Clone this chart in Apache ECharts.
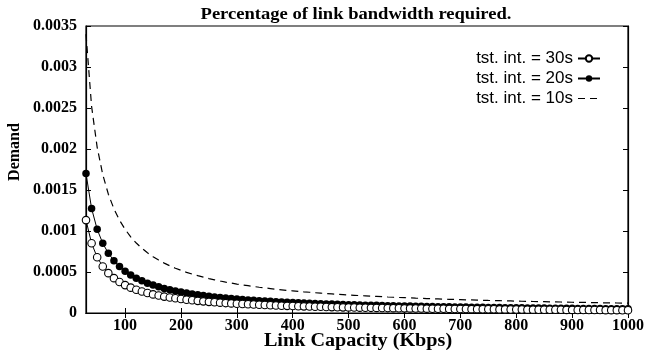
<!DOCTYPE html>
<html>
<head>
<meta charset="utf-8">
<script src="https://cdn.jsdelivr.net/npm/echarts@6/dist/echarts.min.js"></script>
<style>html,body{margin:0;padding:0;background:#fff}#c{width:648px;height:353px}</style>
</head>
<body>
<div id="c"></div>
<script>
// Link capacity (Kbps)
const capacity = [30,40,50,60,70,80,90,100,110,120,130,140,150,160,170,180,190,200,210,220,230,240,250,260,270,280,290,300,310,320,330,340,350,360,370,380,390,400,410,420,430,440,450,460,470,480,490,500,510,520,530,540,550,560,570,580,590,600,610,620,630,640,650,660,670,680,690,700,710,720,730,740,750,760,770,780,790,800,810,820,830,840,850,860,870,880,890,900,910,920,930,940,950,960,970,980,990,1000];

const demand30s = [0.001133,0.000850,0.000680,0.000567,0.000486,0.000425,0.000378,0.000340,0.000309,0.000283,0.000262,0.000243,0.000227,0.000213,0.000200,0.000189,0.000179,0.000170,0.000162,0.000155,0.000148,0.000142,0.000136,0.000131,0.000126,0.000121,0.000117,0.000113,0.000110,0.000106,0.000103,0.000100,0.000097,0.000094,0.000092,0.000089,0.000087,0.000085,0.000083,0.000081,0.000079,0.000077,0.000076,0.000074,0.000072,0.000071,0.000069,0.000068,0.000067,0.000065,0.000064,0.000063,0.000062,0.000061,0.000060,0.000059,0.000058,0.000057,0.000056,0.000055,0.000054,0.000053,0.000052,0.000052,0.000051,0.000050,0.000049,0.000049,0.000048,0.000047,0.000047,0.000046,0.000045,0.000045,0.000044,0.000044,0.000043,0.000043,0.000042,0.000041,0.000041,0.000040,0.000040,0.000040,0.000039,0.000039,0.000038,0.000038,0.000037,0.000037,0.000037,0.000036,0.000036,0.000035,0.000035,0.000035,0.000034,0.000034];

const demand20s = [0.001700,0.001275,0.001020,0.000850,0.000729,0.000638,0.000567,0.000510,0.000464,0.000425,0.000392,0.000364,0.000340,0.000319,0.000300,0.000283,0.000268,0.000255,0.000243,0.000232,0.000222,0.000213,0.000204,0.000196,0.000189,0.000182,0.000176,0.000170,0.000165,0.000159,0.000155,0.000150,0.000146,0.000142,0.000138,0.000134,0.000131,0.000128,0.000124,0.000121,0.000119,0.000116,0.000113,0.000111,0.000109,0.000106,0.000104,0.000102,0.000100,0.000098,0.000096,0.000094,0.000093,0.000091,0.000089,0.000088,0.000086,0.000085,0.000084,0.000082,0.000081,0.000080,0.000078,0.000077,0.000076,0.000075,0.000074,0.000073,0.000072,0.000071,0.000070,0.000069,0.000068,0.000067,0.000066,0.000065,0.000065,0.000064,0.000063,0.000062,0.000061,0.000061,0.000060,0.000059,0.000059,0.000058,0.000057,0.000057,0.000056,0.000055,0.000055,0.000054,0.000054,0.000053,0.000053,0.000052,0.000052,0.000051];

const demand10s = [0.003400,0.002520,0.002020,0.001687,0.001449,0.001270,0.001131,0.001020,0.000929,0.000853,0.000789,0.000734,0.000687,0.000645,0.000608,0.000576,0.000546,0.000520,0.000496,0.000475,0.000455,0.000437,0.000420,0.000405,0.000390,0.000377,0.000365,0.000353,0.000343,0.000333,0.000323,0.000314,0.000306,0.000298,0.000290,0.000283,0.000276,0.000270,0.000264,0.000258,0.000253,0.000247,0.000242,0.000237,0.000233,0.000228,0.000224,0.000220,0.000216,0.000212,0.000209,0.000205,0.000202,0.000199,0.000195,0.000192,0.000189,0.000187,0.000184,0.000181,0.000179,0.000176,0.000174,0.000172,0.000169,0.000167,0.000165,0.000163,0.000161,0.000159,0.000157,0.000155,0.000153,0.000152,0.000150,0.000148,0.000147,0.000145,0.000143,0.000142,0.000140,0.000139,0.000138,0.000136,0.000135,0.000134,0.000132,0.000131,0.000130,0.000129,0.000128,0.000126,0.000125,0.000124,0.000123,0.000122,0.000121,0.000120];

const xTicks = [100,200,300,400,500,600,700,800,900,1000];
const xTickLabels = ['100','200','300','400','500','600','700','800','900','1000'];
const yTicks = [0,0.0005,0.001,0.0015,0.002,0.0025,0.003,0.0035];
const yTickLabels = ['0','0.0005','0.001','0.0015','0.002','0.0025','0.003','0.0035'];
const seriesNames = ['tst. int. = 30s','tst. int. = 20s','tst. int. = 10s'];

const pair = (ys) => capacity.map((x, i) => [x, ys[i]]);
const serif = '"Liberation Serif", "Times New Roman", serif';
const sans = '"Liberation Sans", Arial, sans-serif';
const labelOf = (ticks, labels) => (v) => {
  const i = ticks.findIndex(t => Math.abs(t - v) < 1e-9);
  return i >= 0 ? labels[i] : '';
};

const chart = echarts.init(document.getElementById('c'), null, {renderer: 'canvas'});
const tick = (vals) => ({show: true, inside: true, length: 5, customValues: vals, lineStyle: {color: '#000', width: 1}});
const axisLine = {show: true, lineStyle: {color: '#000', width: 1.2}};
chart.setOption({
  animation: false,
  backgroundColor: '#fff',
  graphic: [{
    type: 'text', x: 356, y: 15, scaleX: 1.16,
    style: {text: 'Percentage of link bandwidth required.', fontFamily: serif, fontWeight: 'bold', fontSize: 16, fill: '#000', align: 'center', verticalAlign: 'middle'}
  }, {
    type: 'text', x: 358, y: 341, scaleX: 1.12,
    style: {text: 'Link Capacity (Kbps)', fontFamily: serif, fontWeight: 'bold', fontSize: 18, fill: '#000', align: 'center', verticalAlign: 'middle'}
  }, {
    type: 'text', x: 15, y: 152, rotation: Math.PI / 2,
    style: {text: 'Demand', fontFamily: serif, fontWeight: 'bold', fontSize: 16, fill: '#000', align: 'center', verticalAlign: 'middle'}
  }],
  legend: {
    orient: 'vertical', right: 42, top: 45, align: 'right',
    itemWidth: 22, itemHeight: 8, itemGap: 3,
    textStyle: {fontFamily: sans, fontSize: 17, color: '#000'},
    data: [seriesNames[0], seriesNames[1], {name: seriesNames[2], lineStyle: {type: [7, 5], width: 1.2}}]
  },
  grid: {left: 86, right: 20, top: 26, bottom: 40, outerBoundsMode: 'none', containLabel: false,
    show: true, borderColor: '#000', borderWidth: 1.2},
  xAxis: [{
    type: 'value', min: 30, max: 1000, position: 'bottom',
    axisLine: axisLine, axisTick: tick(xTicks),
    axisLabel: {customValues: xTicks, margin: 5, fontFamily: serif, fontWeight: 'bold', fontSize: 16, color: '#000',
      formatter: labelOf(xTicks, xTickLabels)},
    splitLine: {show: false}
  }, {
    type: 'value', min: 30, max: 1000, position: 'top',
    axisLine: axisLine, axisTick: tick(xTicks),
    axisLabel: {show: false}, splitLine: {show: false}
  }],
  yAxis: [{
    type: 'value', min: 0, max: 0.0035, position: 'left',
    axisLine: axisLine, axisTick: tick(yTicks),
    axisLabel: {customValues: yTicks, margin: 9, fontFamily: serif, fontWeight: 'bold', fontSize: 16, color: '#000',
      formatter: labelOf(yTicks, yTickLabels)},
    splitLine: {show: false}
  }, {
    type: 'value', min: 0, max: 0.0035, position: 'right',
    axisLine: axisLine, axisTick: tick(yTicks),
    axisLabel: {show: false}, splitLine: {show: false}
  }],
  series: [{
    name: seriesNames[2], type: 'line', data: pair(demand10s),
    showSymbol: false, symbol: 'circle', symbolSize: 1,
    lineStyle: {color: '#000', width: 1.2, type: [7, 5]}, itemStyle: {color: 'rgba(0,0,0,0)', borderWidth: 0}
  }, {
    name: seriesNames[1], type: 'line', data: pair(demand20s),
    symbol: 'circle', symbolSize: 7.5,
    lineStyle: {color: '#000', width: 1}, itemStyle: {color: '#000'}
  }, {
    name: seriesNames[0], type: 'line', data: pair(demand30s),
    symbol: 'circle', symbolSize: 7.5,
    lineStyle: {color: '#000', width: 1}, itemStyle: {color: '#fff', borderColor: '#000', borderWidth: 1.1}
  }]
});
</script>
</body>
</html>
